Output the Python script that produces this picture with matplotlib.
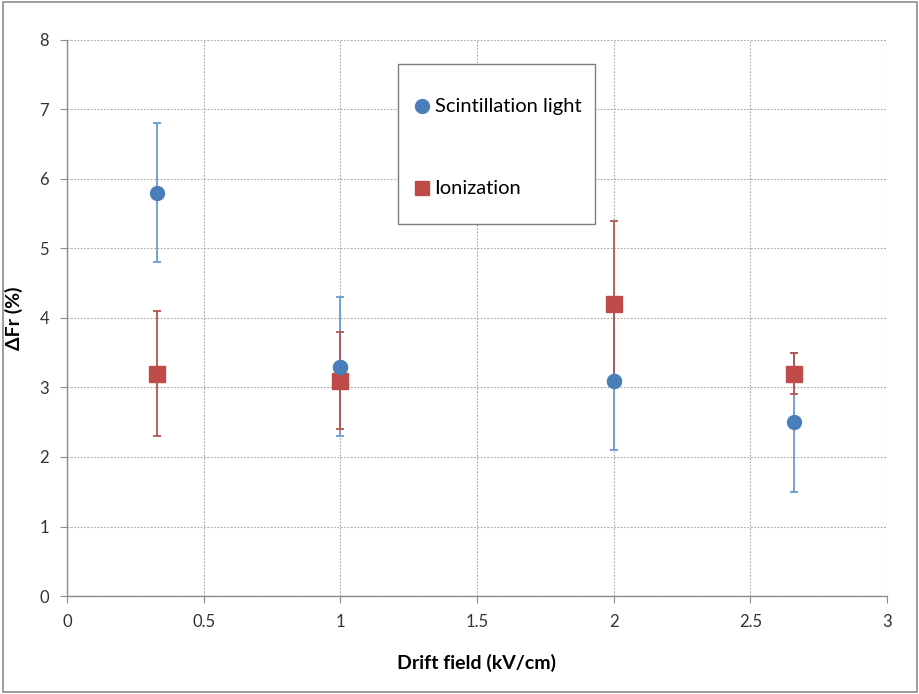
import matplotlib
matplotlib.use("Agg")
import matplotlib.pyplot as plt
from matplotlib.patches import Rectangle

plt.rcParams['font.family'] = ['Lato', 'DejaVu Sans']

field = [0.33, 1.0, 2.0, 2.66]
scint = [5.8, 3.3, 3.1, 2.5]
scint_err = [1.0, 1.0, 1.0, 1.0]
ion = [3.2, 3.1, 4.2, 3.2]
ion_err = [0.9, 0.7, 1.2, 0.3]

blue = '#4a7ebb'
red = '#be4b48'

fig = plt.figure(figsize=(9.2, 6.94), dpi=100)
ax = fig.add_axes([0.0728, 0.1412, 0.8913, 0.8012])

ax.errorbar(field, scint, yerr=scint_err, fmt='o', color=blue, ecolor='#6a9bd1',
            markersize=10, elinewidth=1.3, capsize=3, capthick=1.3, zorder=3)
ax.errorbar(field, ion, yerr=ion_err, fmt='s', color=red, ecolor='#b25552',
            markersize=11, elinewidth=1.3, capsize=3, capthick=1.3, zorder=3)
# scintillation markers drawn on top where they overlap red bars in reference
ax.plot(field[1:3], scint[1:3], 'o', color=blue, markersize=10, zorder=4)

ax.set_xlim(0, 3)
ax.set_ylim(0, 8)
ax.set_xticks([0, 0.5, 1, 1.5, 2, 2.5, 3])
ax.set_xticklabels(['0', '0.5', '1', '1.5', '2', '2.5', '3'])
ax.set_yticks(range(0, 9))
ax.grid(True, color='#a6a6a6', linestyle=(0, (1.5, 1.5)), linewidth=0.8)
ax.set_axisbelow(True)
for s in ['top', 'right']:
    ax.spines[s].set_visible(False)
for s in ['left', 'bottom']:
    ax.spines[s].set_color('#8c8c8c')
    ax.spines[s].set_linewidth(1.0)
ax.tick_params(axis='both', direction='out', length=5, color='#8c8c8c',
               labelsize=12, labelcolor='#333333', pad=8)

ax.set_xlabel('Drift field (kV/cm)', fontsize=14, fontweight='bold', labelpad=17)
ax.set_ylabel('ΔFr (%)', fontsize=14, fontweight='bold', labelpad=12)

# legend box
leg_ax_x0, leg_ax_y0 = 1.21, 5.35
ax.add_patch(Rectangle((leg_ax_x0, leg_ax_y0), 0.72, 2.3, facecolor='white',
                       edgecolor='#7f7f7f', linewidth=1.0, zorder=5))
ax.plot([1.30], [7.05], 'o', color=blue, markersize=10, zorder=6)
ax.text(1.345, 7.05, 'Scintillation light', fontsize=14.5, va='center', ha='left', zorder=6)
ax.plot([1.30], [5.87], 's', color=red, markersize=10, zorder=6)
ax.text(1.345, 5.87, 'Ionization', fontsize=14.5, va='center', ha='left', zorder=6)

# figure border
fig.add_artist(Rectangle((0.003, 0.003), 0.994, 0.994, transform=fig.transFigure,
                         fill=False, edgecolor='#8c8c8c', linewidth=1.2))

fig.savefig('out.png', dpi=100)
